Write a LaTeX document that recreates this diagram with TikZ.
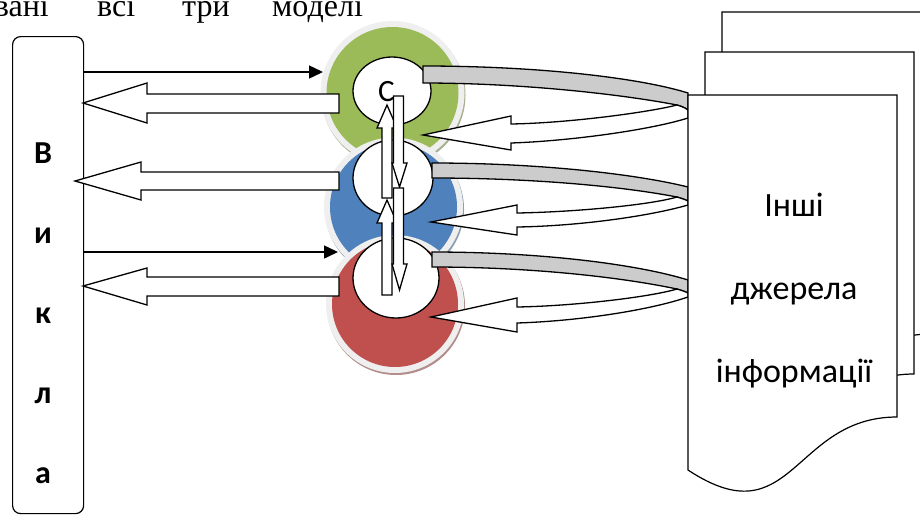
\documentclass[tikz,border=0pt]{standalone}
\usepackage{fontspec}
\setmainfont{Carlito}
\newfontfamily\serifcyr{Liberation Serif}
\usetikzlibrary{arrows.meta,shapes.geometric}
\definecolor{greenC}{HTML}{9BBB59}
\definecolor{blueC}{HTML}{4F81BD}
\definecolor{redC}{HTML}{C0504D}
\definecolor{haloC}{HTML}{EFEFEF}
\definecolor{bandC}{HTML}{CCCCCC}
\newcommand\mydocpath[2]{(#1,#2) -- ({#1+209},#2) -- ({#1+209},{#2+322}) .. controls ({#1+104.5},{#2+322}) and ({#1+104.5},{#2+444}) .. (#1,{#2+375}) -- cycle}
\begin{document}
\begin{tikzpicture}[x=1pt,y=-1pt,
  outl/.style={draw=black,line width=1.3pt,line join=miter},
  blockarrow/.style={outl,fill=white},
  bandback/.style={outl,fill=bandC},
  thinarrow/.style={line width=1.5pt,-{Triangle[length=14pt,width=13pt]}},
  topword/.style={anchor=base west,inner sep=0pt,font=\serifcyr\fontsize{32}{38}\selectfont},
  sideletter/.style={anchor=base,inner sep=0pt,font=\bfseries\fontsize{32}{38}\selectfont},
  doctext/.style={anchor=base,inner sep=0pt,font=\fontsize{34}{40}\selectfont},
  disc/.style={circle,inner sep=0pt},
  inner/.style={ellipse,draw=black,line width=1.3pt,fill=white,inner sep=0pt},
  docshape/.style={draw=black,line width=1.2pt,fill=white}]
\useasboundingbox (0,0) rectangle (920,515);
\clip (0,0) rectangle (920,515);

% top line of text (cut off at the top edge)
\node[topword,anchor=base east] (w1) at (49,16) {вані};
\node[topword] (w2) at (97,16) {всі};
\node[topword] (w3) at (182,16) {три};
\node[topword] (w4) at (272,16) {моделі};

% left box
\node[draw=black,line width=1.2pt,rounded corners=8pt,minimum width=71pt,minimum height=477pt,anchor=north west,inner sep=0pt] (vikl) at (12,36) {};
\node[sideletter] (l1) at (43,163) {В};
\node[sideletter] (l2) at (43,243) {и};
\node[sideletter] (l3) at (43,323) {к};
\node[sideletter] (l4) at (43,403) {л};
\node[sideletter] (l5) at (43,483) {а};

% discs
\node[disc,fill=greenC!60!black!55,minimum size=144pt] (gsh) at (393.5,95) {};
\node[disc,fill=haloC,minimum size=144pt] (ghalo) at (392.5,93) {};
\node[disc,fill=greenC,minimum size=132pt] (gdisc) at (392.5,93) {};
\node[disc,fill=blueC!60!black!55,minimum size=139pt] (bsh) at (394.5,209) {};
\node[disc,fill=haloC,minimum size=139pt] (bhalo) at (393.5,207) {};
\node[disc,fill=blueC,minimum size=127pt] (bdisc) at (393.5,207) {};
\node[disc,fill=redC!60!black!55,minimum size=138pt] (rsh) at (396,306) {};
\node[disc,fill=haloC,minimum size=138pt] (rhalo) at (395,304) {};
\node[disc,fill=redC,minimum size=126pt] (rdisc) at (395,304) {};

\node[inner,minimum width=78pt,minimum height=68pt] (gin) at (392,91) {};
\node[inner,minimum width=80pt,minimum height=76pt] (bin) at (393,178) {};
\node[inner,minimum width=86pt,minimum height=80pt] (rin) at (396,278) {};
\node[anchor=base west,inner sep=0pt,font=\fontsize{31}{36}\selectfont] (cl) at (378,101) {С};

% thin arrows from the left box
\coordinate (t1s) at (83,72);  \coordinate (t1e) at (323,72);
\coordinate (t2s) at (83,252); \coordinate (t2e) at (338,252);
\draw[thinarrow] (t1s) -- (t1e);
\draw[thinarrow] (t2s) -- (t2e);

% block arrows to the left box
\draw[blockarrow] (339,94) -- (147,94) -- (147,83) -- (83,103) -- (147,123) -- (147,113) -- (339,113) -- cycle;
\draw[blockarrow] (339,172) -- (141,172) -- (141,162) -- (75,181) -- (141,200) -- (141,190) -- (339,190) -- cycle;
\draw[blockarrow] (339,277) -- (147,277) -- (147,268) -- (83,286) -- (147,305) -- (147,296) -- (339,296) -- cycle;

% curved arrows, band 1
\draw[bandback] (423,66) .. controls (540,66) and (640,78) .. (688,93) -- (688,110) .. controls (684,107) and (680,106) .. (677,105) .. controls (620,94) and (520,83) .. (423,83) -- cycle;
\draw[blockarrow] (677,105) .. controls (650,112) and (570,123) .. (511,124) -- (511,116) -- (423,135) -- (511,150) -- (511,143) .. controls (570,141) and (650,130) .. (688,118) -- (688,110) .. controls (684,107) and (680,106) .. (677,105) -- cycle;
% band 2
\draw[bandback] (432,163) .. controls (545,163) and (640,175) .. (688,187) -- (688,201) .. controls (684,199) and (680,198) .. (677,197) .. controls (620,186) and (530,178) .. (432,178) -- cycle;
\draw[blockarrow] (677,197) .. controls (650,205) and (575,212) .. (517,213) -- (517,205) -- (431,222) -- (517,235) -- (517,227) .. controls (580,226) and (650,216) .. (688,205) -- (688,201) .. controls (684,199) and (680,198) .. (677,197) -- cycle;
% band 3
\draw[bandback] (432,252) .. controls (545,252) and (640,265) .. (688,280) -- (688,293) .. controls (684,291) and (680,290) .. (677,289) .. controls (620,277) and (530,267) .. (432,267) -- cycle;
\draw[blockarrow] (677,289) .. controls (650,297) and (575,306) .. (517,307) -- (517,298) -- (431,317) -- (517,332) -- (517,323) .. controls (580,321) and (650,310) .. (688,297) -- (688,293) .. controls (684,291) and (680,290) .. (677,289) -- cycle;

% vertical double arrows
\draw[blockarrow] (382,198) -- (382,128) -- (377,128) -- (387,105) -- (397,128) -- (392,128) -- (392,198) -- cycle;
\draw[blockarrow] (393.5,96) -- (403.5,96) -- (403.5,163) -- (407,163) -- (399.5,187) -- (392,163) -- (393.5,163) -- cycle;
\draw[blockarrow] (382,295) -- (382,223) -- (377,223) -- (387,200) -- (397,223) -- (392,223) -- (392,295) -- cycle;
\draw[blockarrow] (393.5,188) -- (403.5,188) -- (403.5,264) -- (407,264) -- (399.5,290) -- (392,264) -- (393.5,264) -- cycle;

% documents
\draw[docshape] \mydocpath{722}{12};
\draw[docshape] \mydocpath{705}{52};
\draw[docshape] \mydocpath{688}{95};
\node[doctext] (d1) at (794,216) {Інші};
\node[doctext] (d2) at (794,299) {джерела};
\node[doctext] (d3) at (794,382) {інформації};
\end{tikzpicture}
\end{document}
